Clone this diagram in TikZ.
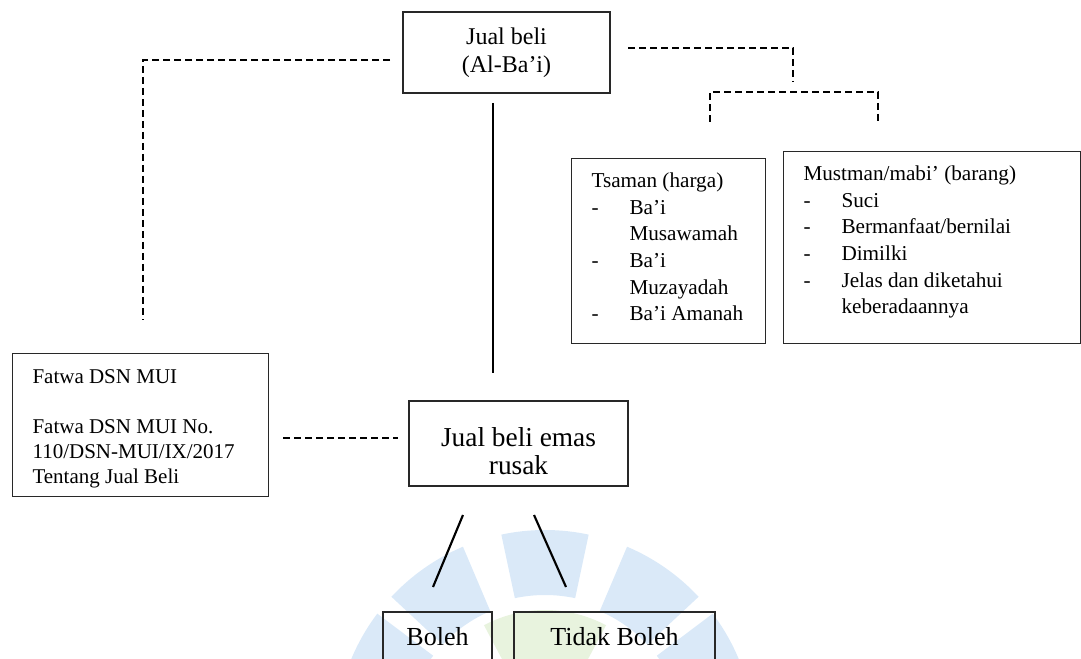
\documentclass[tikz,border=0pt]{standalone}
\usepackage{fontspec}
\setmainfont{Liberation Serif}
\usepackage{xcolor}
\definecolor{wmblue}{RGB}{218,233,248}
\definecolor{wmgreen}{RGB}{232,243,222}
\definecolor{edge}{RGB}{40,40,40}

% left-aligned text block of a fixed size, text starting at the top
\newcommand{\topblock}[3]{\begin{minipage}[t][#2][t]{#1}\setlength{\parindent}{0pt}\leftskip=15pt #3\end{minipage}}
\newcommand{\dashitem}[1]{\makebox[28.5pt][l]{-}#1}
\newcommand{\moreitem}[1]{\hspace*{28.5pt}#1}
% watermark segment: start angle, end angle, inner radius, outer radius
\newcommand{\wmseg}[4]{(#1:#3) -- (#1:#4) arc[start angle=#1, end angle=#2, radius=#4] -- (#2:#3) arc[start angle=#2, end angle=#1, radius=#3] -- cycle}

\begin{document}
\begin{tikzpicture}[x=0.75pt, y=-0.75pt,
  box/.style={draw=edge, line width=0.8pt, inner sep=0pt},
  listfont/.style={font=\fontsize{15.9}{20}\selectfont},
  solidlink/.style={line width=1.6pt},
  dashlink/.style={line width=1.3pt, dash pattern=on 5.25pt off 3pt}]
  \useasboundingbox (0,0) rectangle (1081,659);
  \clip (0,0) rectangle (1081,659);

  % faint logo behind the bottom boxes
  \begin{scope}[shift={(545,740)}, y=0.75pt]
    \fill[wmgreen] \wmseg{62}{118}{40}{130};
    \fill[wmblue] \wmseg{78}{102}{145}{210};
    \fill[wmblue] \wmseg{113}{137}{140}{210};
    \fill[wmblue] \wmseg{43}{67}{140}{210};
    \fill[wmblue] \wmseg{143}{167}{140}{210};
    \fill[wmblue] \wmseg{13}{37}{140}{210};
  \end{scope}

  % boxes
  \node[box, minimum width=155.25pt, minimum height=60.75pt, align=center,
        font=\fontsize{18}{21}\selectfont] (jualbeli) at (506.5,52.5) {Jual beli\\(Al-Ba’i)};
  \node[box, anchor=north west, listfont] (tsaman) at (571,158)
    {\topblock{145.5pt}{138.75pt}{\rule{0pt}{21.75pt}Tsaman (harga)\\
      \dashitem{Ba’i}\\
      \moreitem{Musawamah}\\
      \dashitem{Ba’i}\\
      \moreitem{Muzayadah}\\
      \dashitem{Ba’i Amanah}}};
  \node[box, anchor=north west, listfont] (mabi) at (783,151)
    {\topblock{222.75pt}{144pt}{\rule{0pt}{21.75pt}Mustman/mabi’ (barang)\\
      \dashitem{Suci}\\
      \dashitem{Bermanfaat/bernilai}\\
      \dashitem{Dimilki}\\
      \dashitem{Jelas dan diketahui}\\
      \moreitem{keberadaannya}}};
  \node[box, anchor=north west, font=\fontsize{15.75}{18.75}\selectfont] (fatwa) at (12,353)
    {\topblock{192pt}{107.25pt}{\rule{0pt}{22.5pt}Fatwa DSN MUI\\[18.75pt]
      Fatwa DSN MUI No.\\
      110/DSN-MUI/IX/2017\\
      Tentang Jual Beli}};
  \node[box, minimum width=164.25pt, minimum height=63.75pt, align=center,
        font=\fontsize{20.5}{21}\selectfont] (emas) at (518.5,443.5) {\rule{0pt}{26pt}Jual beli emas\\rusak};
  \node[box, minimum width=81.75pt, minimum height=37.5pt,
        font=\fontsize{19.5}{22}\selectfont] (boleh) at (437.5,637) {Boleh};
  \node[box, minimum width=150.75pt, minimum height=37.5pt,
        font=\fontsize{19.5}{22}\selectfont] (tidak) at (614.5,637) {Tidak Boleh};

  % connector ends
  \coordinate (jb1) at (493,103);
  \coordinate (jb2) at (493,373);
  \coordinate (fw1) at (390,60);
  \coordinate (fw2) at (143,320);
  \coordinate (rk1) at (628,48);
  \coordinate (rk2) at (793,82);
  \coordinate (rk3) at (710,122);
  \coordinate (rk4) at (793,92);
  \coordinate (rk5) at (878,122);
  \coordinate (em1) at (283,438);
  \coordinate (em2) at (398,438);
  \coordinate (bl1) at (463,515);
  \coordinate (bl2) at (433,587);
  \coordinate (tb1) at (534,515);
  \coordinate (tb2) at (566,587);

  % connectors
  \draw[solidlink] (jb1) -- (jb2);
  \draw[dashlink] (fw1) -| (fw2);
  \draw[dashlink] (rk1) -| (rk2);
  \draw[dashlink] (rk3) |- (rk4) -| (rk5);
  \draw[dashlink] (em1) -- (em2);
  \draw[solidlink] (bl1) -- (bl2);
  \draw[solidlink] (tb1) -- (tb2);
\end{tikzpicture}
\end{document}
